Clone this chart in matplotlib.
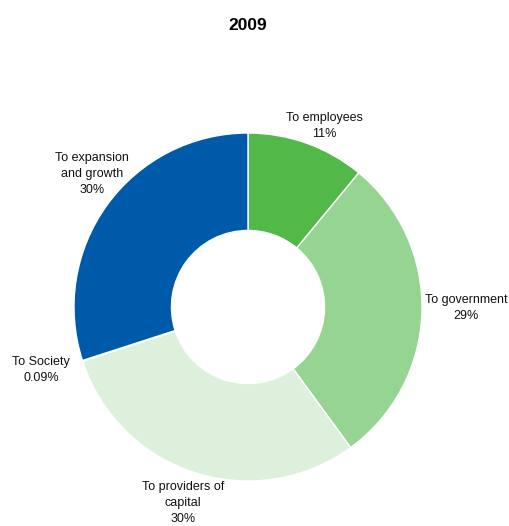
import matplotlib.pyplot as plt

categories = ["To employees", "To government", "To providers of\ncapital",
              "To Society", "To expansion\nand growth"]
values = [11, 29, 30, 0.09, 30]
value_labels = ["11%", "29%", "30%", "0.09%", "30%"]
colors = ["#52b848", "#96d492", "#dcf0dc", "#f4faf4", "#005aaa"]

# label centres in pixels (x from left, y from top)
label_pos = [(324, 126), (466, 308), (183, 503), (41, 370), (92, 174)]

W, H = 510, 526
cx, cy, R = 248, 307, 174

plt.rcParams["font.family"] = ["Liberation Sans Narrow", "Liberation Sans", "DejaVu Sans"]

fig = plt.figure(figsize=(W / 100, H / 100), dpi=100)
ax = fig.add_axes([0, 0, 1, 1])
ax.pie(values, colors=colors, startangle=90, counterclock=False, radius=1,
       wedgeprops=dict(width=0.56, edgecolor="white", linewidth=1))
ax.set_xlim(-cx / R, (W - cx) / R)
ax.set_ylim(-(H - cy) / R, cy / R)
ax.set_aspect("equal")
ax.axis("off")

for cat, lab, (px, py) in zip(categories, value_labels, label_pos):
    fig.text(px / W, 1 - py / H, cat + "\n" + lab, ha="center", va="center",
             fontsize=9, linespacing=1.4, color="#111111")

fig.text(cx / W, 1 - 26 / H, "2009", ha="center", va="center",
         fontsize=12.5, fontweight="bold")

fig.savefig("out.png", dpi=100)
plt.close(fig)
